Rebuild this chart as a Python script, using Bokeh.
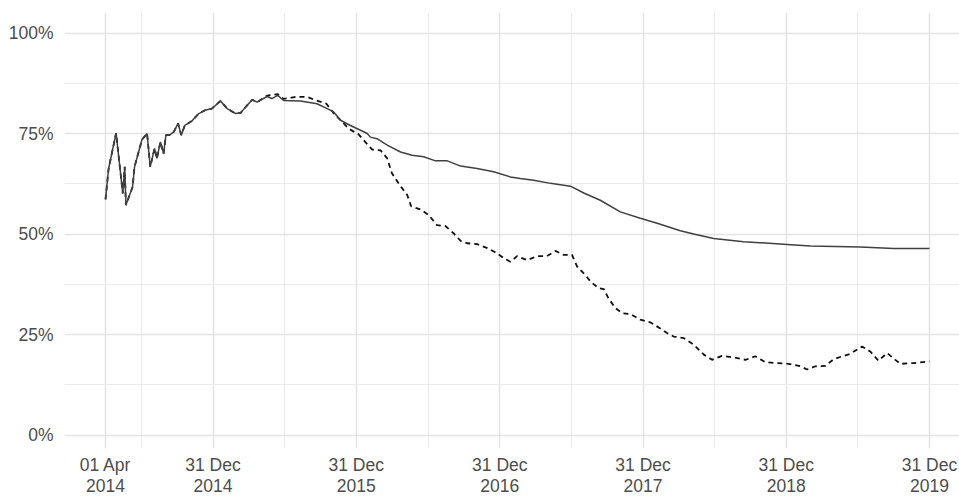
import pandas as pd
from bokeh.plotting import figure
from bokeh.models import Range1d, FixedTicker
from bokeh.embed import file_html
from bokeh.resources import INLINE

# ---------------- data ----------------
solid_dates = [
    "2014-04-01", "2014-04-09", "2014-04-28", "2014-05-15", "2014-05-20", "2014-05-23",
    "2014-06-09", "2014-06-14", "2014-07-03", "2014-07-16", "2014-07-24", "2014-08-04",
    "2014-08-10", "2014-08-19", "2014-08-27", "2014-09-02", "2014-09-11", "2014-09-22",
    "2014-10-03", "2014-10-11", "2014-10-20", "2014-11-07", "2014-11-24", "2014-12-11",
    "2014-12-28", "2015-01-19", "2015-02-05", "2015-02-26", "2015-03-11", "2015-03-28",
    "2015-04-10", "2015-04-22", "2015-05-18", "2015-05-30", "2015-06-14", "2015-06-29",
    "2015-08-11", "2015-09-22", "2015-10-18", "2015-11-04", "2015-11-21", "2015-12-16",
    "2016-01-11", "2016-01-28", "2016-02-05", "2016-02-22", "2016-03-19", "2016-04-22",
    "2016-05-21", "2016-06-20", "2016-07-20", "2016-08-19", "2016-09-22", "2016-11-03",
    "2016-12-15", "2017-01-27", "2017-02-21", "2017-03-27", "2017-05-09", "2017-06-29",
    "2017-08-02", "2017-09-13", "2017-11-03", "2017-12-24", "2018-02-05", "2018-04-05",
    "2018-05-09", "2018-06-29", "2018-09-13", "2019-01-02", "2019-03-02", "2019-07-08",
    "2019-10-01", "2019-12-31",
]
solid_values = [
    58.6, 66.3, 75.1, 60.1, 66.7, 57.2,
    61.7, 66.7, 73.5, 75.0, 66.7, 71.3,
    68.8, 72.9, 70.0, 74.6, 74.6, 75.4,
    77.5, 74.6, 77.0, 78.1, 79.9, 80.8,
    81.2, 83.1, 81.2, 80.0, 80.1, 82.0,
    83.4, 82.8, 84.2, 83.7, 84.5, 83.2,
    83.1, 82.4, 81.2, 80.3, 78.3, 77.0,
    75.8, 75.0, 74.1, 73.7, 72.1, 70.4,
    69.6, 69.2, 68.2, 68.2, 66.9, 66.3,
    65.5, 64.2, 63.8, 63.4, 62.6, 61.9,
    60.2, 58.4, 55.5, 53.9, 52.7, 50.8,
    50.0, 48.9, 48.1, 47.4, 47.0, 46.8,
    46.4, 46.4,
]

dashed_dates = solid_dates[:32] + [
    "2015-05-18", "2015-06-14", "2015-06-29", "2015-07-30", "2015-08-28", "2015-09-18",
    "2015-10-16", "2015-11-04", "2015-11-21", "2015-12-12", "2016-01-06", "2016-01-24",
    "2016-02-10", "2016-03-02", "2016-03-19", "2016-03-31", "2016-04-17", "2016-05-09",
    "2016-05-19", "2016-06-12", "2016-07-03", "2016-07-24", "2016-08-14", "2016-09-04",
    "2016-09-22", "2016-10-09", "2016-11-03", "2016-11-29", "2016-12-24", "2017-01-10",
    "2017-01-27", "2017-02-13", "2017-03-11", "2017-04-05", "2017-04-30", "2017-05-22",
    "2017-06-12", "2017-07-03", "2017-07-16", "2017-08-06", "2017-08-19", "2017-09-09",
    "2017-09-22", "2017-10-04", "2017-10-21", "2017-11-08", "2017-11-29", "2017-12-24",
    "2018-01-19", "2018-02-13", "2018-03-02", "2018-03-19", "2018-04-14", "2018-05-09",
    "2018-06-04", "2018-06-25", "2018-07-20", "2018-08-19", "2018-09-18", "2018-10-13",
    "2018-11-08", "2018-12-07", "2019-01-06", "2019-02-05", "2019-02-22", "2019-03-15",
    "2019-04-10", "2019-05-01", "2019-06-12", "2019-07-12", "2019-08-02", "2019-08-23",
    "2019-09-14", "2019-10-05", "2019-10-18", "2019-11-21", "2019-12-31",
]
dashed_values = solid_values[:32] + [
    84.4, 84.8, 83.6, 84.1, 84.1, 83.3,
    82.4, 80.0, 78.3, 76.2, 74.8, 72.8,
    71.0, 70.8, 68.8, 65.1, 62.6, 59.7,
    56.9, 56.1, 54.7, 52.2, 52.0, 50.2,
    48.3, 47.7, 47.5, 46.5, 45.2, 44.0,
    43.1, 44.5, 43.5, 44.5, 44.5, 45.8,
    44.8, 44.8, 41.9, 39.8, 38.2, 36.5,
    36.3, 34.0, 31.6, 30.3, 30.1, 28.7,
    28.0, 26.5, 25.4, 24.5, 24.1, 22.5,
    20.0, 18.7, 19.7, 19.3, 18.7, 19.6,
    18.1, 17.9, 17.7, 17.1, 16.3, 17.1,
    17.2, 18.9, 20.2, 22.0, 20.8, 18.5,
    20.4, 18.7, 17.7, 17.9, 18.3,
]

x_tick_dates = ["2014-04-01", "2014-12-31", "2015-12-31", "2016-12-31",
                "2017-12-31", "2018-12-31", "2019-12-31"]
x_tick_labels = ["01 Apr\n2014", "31 Dec\n2014", "31 Dec\n2015", "31 Dec\n2016",
                 "31 Dec\n2017", "31 Dec\n2018", "31 Dec\n2019"]
x_minor_dates = ["2014-07-01 12:00", "2015-07-01 12:00", "2016-07-01 00:00",
                 "2017-07-01 12:00", "2018-07-01 12:00", "2019-07-01 12:00"]
y_ticks = [0, 25, 50, 75, 100]
y_tick_labels = ["0%", "25%", "50%", "75%", "100%"]
y_minor_ticks = [12.5, 37.5, 62.5, 87.5]


def to_ms(s):
    return pd.Timestamp(s).value / 1e6


FONT = "Liberation Sans"
LABEL_COLOR = "#4d4d4d"

# ---------------- figure ----------------
p = figure(
    width=959, height=498,
    x_axis_type="datetime",
    output_backend="svg",
    toolbar_location=None,
    x_range=Range1d(start=pd.Timestamp("2013-12-17 12:00"), end=pd.Timestamp("2020-03-16 12:00")),
    y_range=Range1d(start=-3.35, end=105.1),
    min_border_left=64, min_border_right=0, min_border_top=12, min_border_bottom=0,
)
p.outline_line_color = None
p.background_fill_color = "white"
p.border_fill_color = "white"

x_ticker = FixedTicker(ticks=[to_ms(d) for d in x_tick_dates],
                       minor_ticks=[to_ms(d) for d in x_minor_dates])
p.xaxis.ticker = x_ticker
p.xgrid.ticker = x_ticker
p.xaxis.major_label_overrides = {to_ms(d): lab for d, lab in zip(x_tick_dates, x_tick_labels)}

p.yaxis.ticker = FixedTicker(ticks=y_ticks, minor_ticks=y_minor_ticks)
p.yaxis.major_label_overrides = {t: lab for t, lab in zip(y_ticks, y_tick_labels)}

for ax in (p.xaxis, p.yaxis):
    ax.axis_line_color = None
    ax.major_tick_line_color = None
    ax.minor_tick_line_color = None
    ax.major_tick_out = 0
    ax.major_tick_in = 0
    ax.minor_tick_out = 0
    ax.minor_tick_in = 0
    ax.major_label_text_font = FONT
    ax.major_label_text_font_size = "17.5px"
    ax.major_label_text_color = LABEL_COLOR
p.yaxis.major_label_standoff = 11
p.xaxis.major_label_standoff = 6
p.xaxis.major_label_text_line_height = 1.05

for g in (p.xgrid, p.ygrid):
    g.grid_line_color = "#e3e3e3"
    g.grid_line_width = 1.5
    g.minor_grid_line_color = "#ebebeb"
    g.minor_grid_line_width = 1.0

p.line(pd.to_datetime(dashed_dates), dashed_values, line_color="#111111",
       line_width=1.8, line_dash="5 4")
p.line(pd.to_datetime(solid_dates), solid_values, line_color="#404040",
       line_width=1.5)

open("out.html", "w").write(file_html(p, INLINE))
